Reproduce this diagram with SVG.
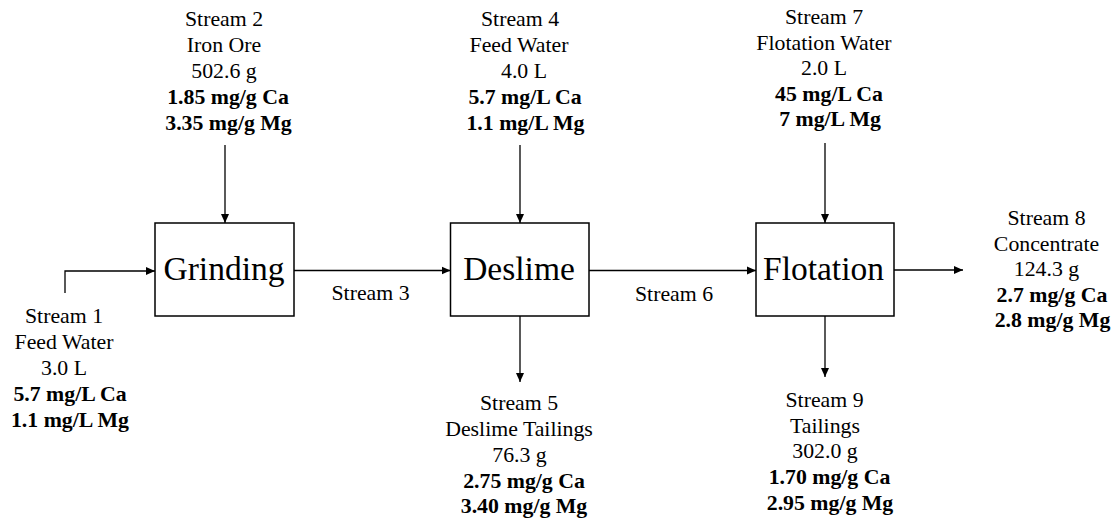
<svg xmlns="http://www.w3.org/2000/svg" width="1115" height="521" viewBox="0 0 1115 521">
<style>
.t{font-size:21.8px}
.b{font-size:21.8px;font-weight:bold}
.big{font-size:33.5px}
.box{fill:#fff;stroke:#000;stroke-width:1.5}
.c{fill:none;stroke:#000;stroke-width:1.3;marker-end:url(#ah)}
</style>
<defs>
<marker id="ah" markerUnits="userSpaceOnUse" markerWidth="10" markerHeight="10" refX="9" refY="4.5" orient="auto">
<path d="M0,0.5 L9,4.5 L0,8.5 Z" fill="#000"/>
</marker>
</defs>
<rect width="1115" height="521" fill="#fff"/>
<g id="connectors">
<path class="c" d="M65,293 V271 H155"/>
<path class="c" d="M225,145 V223"/>
<path class="c" d="M294,270.5 H450.5"/>
<path class="c" d="M520,145 V223"/>
<path class="c" d="M520,316 V382"/>
<path class="c" d="M589,270.5 H756"/>
<path class="c" d="M825,143 V223"/>
<path class="c" d="M894,270 H963"/>
<path class="c" d="M825,316 V377"/>
</g>
<g font-family="Liberation Serif, Tinos, Times New Roman, DejaVu Serif, serif" fill="#000" text-anchor="middle">
<g id="grinding">
<rect class="box" x="155" y="223" width="139" height="93"/>
<text class="big" x="224" y="280">Grinding</text>
</g>
<g id="deslime">
<rect class="box" x="450.5" y="223" width="138.5" height="93"/>
<text class="big" x="519" y="280">Deslime</text>
</g>
<g id="flotation">
<rect class="box" x="756" y="223" width="138" height="93"/>
<text class="big" x="823.5" y="280">Flotation</text>
</g>
<g id="stream1">
<text class="t" x="64" y="323">Stream 1</text>
<text class="t" x="64" y="349">Feed Water</text>
<text class="t" x="64" y="375">3.0 L</text>
<text class="b" x="70" y="401">5.7 mg/L Ca</text>
<text class="b" x="70" y="427">1.1 mg/L Mg</text>
</g>
<g id="stream2">
<text class="t" x="224" y="26">Stream 2</text>
<text class="t" x="224" y="52">Iron Ore</text>
<text class="t" x="224" y="78">502.6 g</text>
<text class="b" x="228" y="104">1.85 mg/g Ca</text>
<text class="b" x="228.5" y="130">3.35 mg/g Mg</text>
</g>
<g id="stream3">
<text class="t" x="370.5" y="300">Stream 3</text>
</g>
<g id="stream4">
<text class="t" x="520" y="26">Stream 4</text>
<text class="t" x="519" y="52">Feed Water</text>
<text class="t" x="524" y="78">4.0 L</text>
<text class="b" x="525" y="104">5.7 mg/L Ca</text>
<text class="b" x="525.5" y="130">1.1 mg/L Mg</text>
</g>
<g id="stream5">
<text class="t" x="519" y="410">Stream 5</text>
<text class="t" x="519" y="436">Deslime Tailings</text>
<text class="t" x="519.5" y="462">76.3 g</text>
<text class="b" x="524" y="488">2.75 mg/g Ca</text>
<text class="b" x="524" y="513">3.40 mg/g Mg</text>
</g>
<g id="stream6">
<text class="t" x="674" y="301">Stream 6</text>
</g>
<g id="stream7">
<text class="t" x="824" y="24">Stream 7</text>
<text class="t" x="824" y="49.5">Flotation Water</text>
<text class="t" x="824" y="75">2.0 L</text>
<text class="b" x="829" y="100.5">45 mg/L Ca</text>
<text class="b" x="830" y="126">7 mg/L Mg</text>
</g>
<g id="stream8">
<text class="t" x="1046.5" y="225">Stream 8</text>
<text class="t" x="1046.5" y="251">Concentrate</text>
<text class="t" x="1046.5" y="276">124.3 g</text>
<text class="b" x="1052" y="302">2.7 mg/g Ca</text>
<text class="b" x="1052.5" y="327">2.8 mg/g Mg</text>
</g>
<g id="stream9">
<text class="t" x="824.5" y="407">Stream 9</text>
<text class="t" x="825" y="432.5">Tailings</text>
<text class="t" x="825" y="458">302.0 g</text>
<text class="b" x="829.5" y="484">1.70 mg/g Ca</text>
<text class="b" x="830" y="510">2.95 mg/g Mg</text>
</g>
</g>
</svg>
